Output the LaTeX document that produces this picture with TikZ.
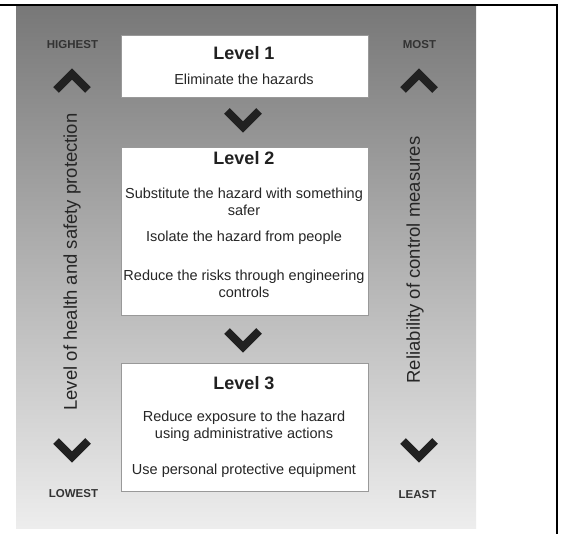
\documentclass[tikz,border=0pt]{standalone}
\usepackage{fontspec}
\setmainfont{Liberation Sans}
\definecolor{paneltop}{gray}{0.47}
\definecolor{panelbot}{gray}{0.93}
\definecolor{ink}{gray}{0.13}
\tikzset{
	levelbox/.style={draw=black!40, fill=white, line width=0.8pt, inner sep=0pt},
	leveltitle/.style={font=\fontsize{18}{21}\selectfont\bfseries, text=ink},
	leveltext/.style={font=\fontsize{14.5}{17}\selectfont, align=center, text=black!85},
	endlabel/.style={font=\fontsize{11.5}{13}\selectfont\bfseries, text=black!80},
	sidelabel/.style={font=\fontsize{18.5}{21}\selectfont, rotate=90, text=black!85},
	chevron/.style={draw=ink, line width=8pt, miter limit=10},
	chevup/.pic={\draw[chevron] (-16,8) -- (0,-8) -- (16,8);},
	chevdown/.pic={\draw[chevron] (-16,-8) -- (0,8) -- (16,-8);}
}
\begin{document}
\begin{tikzpicture}[x=1pt, y=-1pt]
			\useasboundingbox (0,0) rectangle (562,534);
			\fill[white] (0,0) rectangle (562,534);
			\shade[top color=paneltop, bottom color=panelbot] (16,7) rectangle (476,528);
			\draw[line width=2pt] (0,5) -- (557,5) -- (557,534);
			\node[levelbox, minimum width=247, minimum height=62] (box1) at (244.5,66) {};
			\node[levelbox, minimum width=247, minimum height=168] (box2) at (244.5,231) {};
			\node[levelbox, minimum width=247, minimum height=128] (box3) at (244.5,427) {};
			\node[leveltitle] (title1) at (244,53) {Level 1};
			\node[leveltext] (elim) at (244,79) {Eliminate the hazards};
			\node[leveltitle] (title2) at (244,158) {Level 2};
			\node[leveltext] (subst) at (244,201.5) {Substitute the hazard with something\\safer};
			\node[leveltext] (isol) at (244,238) {Isolate the hazard from people};
			\node[leveltext] (engin) at (244,284) {Reduce the risks through engineering\\controls};
			\node[leveltitle] (title3) at (244,383) {Level 3};
			\node[leveltext] (admin) at (244,426) {Reduce exposure to the hazard\\using administrative actions};
			\node[leveltext] (ppe) at (244,471) {Use personal protective equipment};
			\pic at (243,119) {chevdown};
			\pic at (243,339) {chevdown};
			\node[endlabel] (highest) at (72.5,45) {HIGHEST};
			\node[endlabel] (lowest) at (73.5,494) {LOWEST};
			\node[endlabel] (most) at (419.5,45) {MOST};
			\node[endlabel] (least) at (417.5,495) {LEAST};
			\pic at (72,82) {chevup};
			\pic at (72,449) {chevdown};
			\pic at (419,82) {chevup};
			\pic at (419,449) {chevdown};
			\node[sidelabel] (protect) at (72,262) {Level of health and safety protection};
			\node[sidelabel] (reliab) at (415,260) {Reliability of control measures};
\end{tikzpicture}
\end{document}
